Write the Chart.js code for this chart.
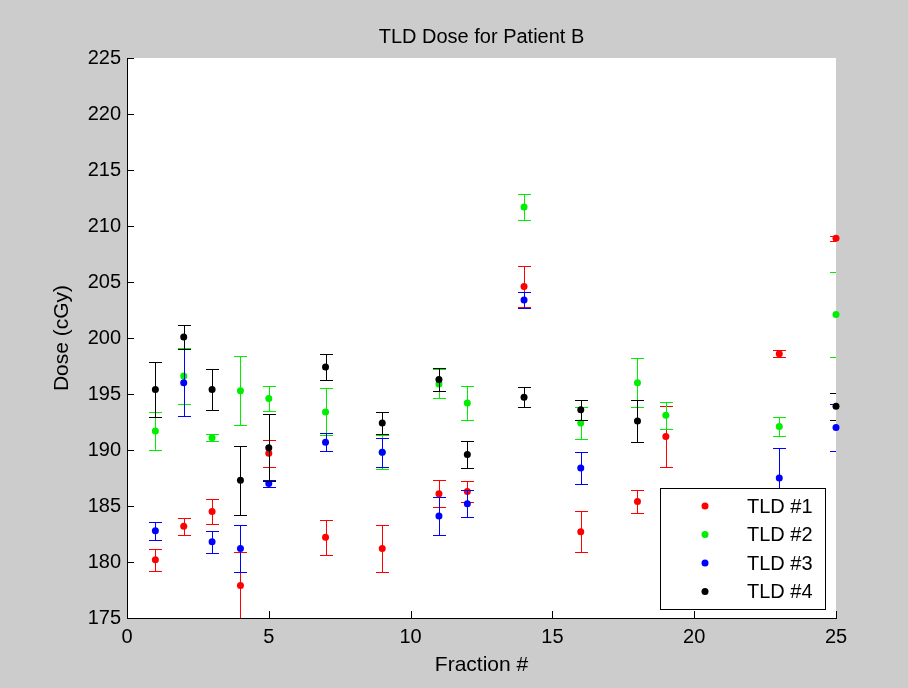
<!DOCTYPE html>
<html>
<head>
<meta charset="utf-8">
<script src="https://cdn.jsdelivr.net/npm/chart.js@4.4.1/dist/chart.umd.min.js"></script>
<style>
    html, body { margin: 0; padding: 0; background: #cccccc; }
    #wrap { width: 908px; height: 688px; }
</style>
</head>
<body>
<div id="wrap"><canvas id="chart" width="908" height="688"></canvas></div>
<script>
// fraction numbers (x)
const fractions = [1, 2, 3, 4, 5, 7, 9, 11, 12, 14, 16, 18, 19, 23, 25];

// dose values (cGy) and half error bar lengths, null = hidden behind legend
const tld1 = [180.2, 183.2, 184.5, 177.9, 189.7, 182.2, 181.2, 186.1, 186.3, 204.6, 182.7, 185.4, 191.2, 198.6, 208.9];
const tld1Err = [1.0, 0.75, 1.1, 3.0, 1.2, 1.55, 2.1, 1.2, 0.9, 1.8, 1.85, 1.0, 2.75, 0.3, 0.2];

const tld2 = [191.7, 196.6, 191.1, 195.3, 194.6, 193.4, 189.8, 195.9, 194.2, 211.7, 192.4, 196.0, 193.1, 192.1, 202.1];
const tld2Err = [1.7, 2.5, 0.3, 3.1, 1.1, 2.1, 1.5, 1.3, 1.55, 1.15, 1.4, 2.2, 1.2, 0.85, 3.8];

const tld3 = [182.8, 196.0, 181.8, 181.2, 187.0, 190.7, 189.8, 184.1, 185.2, 203.4, 188.4, null, null, 187.5, 192.0];
const tld3Err = [0.8, 3.0, 1.0, 2.1, 0.3, 0.8, 1.3, 1.7, 1.2, 0.7, 1.4, null, null, 2.65, 2.1];

const tld4 = [195.4, 200.1, 195.4, 187.3, 190.2, 197.4, 192.4, 196.3, 189.6, 194.7, 193.6, 192.6, null, null, 193.9];
const tld4Err = [2.45, 1.1, 1.8, 3.1, 3.0, 1.15, 1.0, 1.05, 1.2, 0.9, 0.9, 1.9, null, null, 1.2];

const seriesLabels = ["TLD #1", "TLD #2", "TLD #3", "TLD #4"];
const seriesColors = ["#ff0000", "#00ee00", "#0000ff", "#000000"];

const FONT = '"Liberation Sans", Arial, Helvetica, sans-serif';

function makePoints(values, errs) {
    return fractions.map((f, i) => ({x: f, y: values[i], err: errs[i]}));
}

function makeDataset(idx, values, errs) {
    return {
        label: seriesLabels[idx],
        data: makePoints(values, errs),
        backgroundColor: seriesColors[idx],
        borderColor: seriesColors[idx],
        pointRadius: 3.5,
        pointHoverRadius: 3.5,
        pointBorderWidth: 0,
        showLine: false,
        clip: false,
        order: 4 - idx
    };
}

// grey figure background + white axes box
const backgroundPlugin = {
    id: 'figureBackground',
    beforeDraw(chart) {
        const ctx = chart.ctx;
        const a = chart.chartArea;
        ctx.save();
        ctx.fillStyle = '#cccccc';
        ctx.fillRect(0, 0, chart.width, chart.height);
        ctx.fillStyle = '#ffffff';
        ctx.fillRect(a.left, a.top, a.right - a.left, a.bottom - a.top);
        ctx.restore();
    }
};

// vertical error bars with caps, drawn just before each dataset's markers
const errorBarPlugin = {
    id: 'errorBars',
    beforeDatasetDraw(chart, args) {
        const ds = chart.data.datasets[args.index];
        const ctx = chart.ctx;
        const a = chart.chartArea;
        const xs = chart.scales.x, ys = chart.scales.y;
        ctx.save();
        ctx.beginPath();
        ctx.rect(a.left, a.top, a.right - a.left, a.bottom - a.top);
        ctx.clip();
        ctx.strokeStyle = ds.borderColor;
        ctx.lineWidth = 1;
        ds.data.forEach(p => {
            if (p.y == null || p.err == null) return;
            const px = Math.round(xs.getPixelForValue(p.x)) + 0.5;
            const top = Math.round(ys.getPixelForValue(p.y + p.err)) + 0.5;
            const bot = Math.round(ys.getPixelForValue(p.y - p.err)) + 0.5;
            ctx.beginPath();
            ctx.moveTo(px, top); ctx.lineTo(px, bot);
            ctx.moveTo(px - 6.5, top); ctx.lineTo(px + 6.5, top);
            ctx.moveTo(px - 6.5, bot); ctx.lineTo(px + 6.5, bot);
            ctx.stroke();
        });
        ctx.restore();
    }
};

// inward tick marks and the boxed legend in the lower right
const axesDecorPlugin = {
    id: 'axesDecor',
    afterDraw(chart) {
        const ctx = chart.ctx;
        const a = chart.chartArea;
        const xs = chart.scales.x, ys = chart.scales.y;
        ctx.save();
        ctx.strokeStyle = '#000';
        ctx.lineWidth = 1;
        ctx.beginPath();
        xs.ticks.forEach(t => {
            const px = Math.round(xs.getPixelForValue(t.value)) + 0.5;
            ctx.moveTo(px, a.bottom); ctx.lineTo(px, a.bottom - 7);
        });
        ys.ticks.forEach(t => {
            const py = Math.round(ys.getPixelForValue(t.value)) + 0.5;
            ctx.moveTo(a.left, py); ctx.lineTo(a.left + 7, py);
        });
        ctx.stroke();

        // legend
        const lx = 660.5, ly = 488.5, lw = 165, lh = 121;
        ctx.fillStyle = '#ffffff';
        ctx.fillRect(lx, ly, lw, lh);
        ctx.strokeRect(lx, ly, lw, lh);
        ctx.font = '20px ' + FONT;
        ctx.textBaseline = 'middle';
        ctx.textAlign = 'left';
        chart.data.datasets.forEach((ds, i) => {
            const rowY = 506 + i * 28.5;
            ctx.fillStyle = ds.backgroundColor;
            ctx.beginPath();
            ctx.arc(705, rowY, 3.5, 0, Math.PI * 2);
            ctx.fill();
            ctx.fillStyle = '#000';
            ctx.fillText(ds.label, 747, rowY + 1);
        });
        ctx.restore();
    }
};

const chartData = {
    datasets: [
        makeDataset(0, tld1, tld1Err),
        makeDataset(1, tld2, tld2Err),
        makeDataset(2, tld3, tld3Err),
        makeDataset(3, tld4, tld4Err)
    ]
};

new Chart(document.getElementById('chart'), {
    type: 'scatter',
    data: chartData,
    plugins: [backgroundPlugin, errorBarPlugin, axesDecorPlugin],
    options: {
        responsive: false,
        animation: false,
        devicePixelRatio: 1,
        layout: {padding: {left: 0, right: 72, top: 0, bottom: 0}},
        plugins: {
            legend: {display: false},
            tooltip: {enabled: false},
            title: {
                display: true,
                fullSize: false,
                text: 'TLD Dose for Patient B',
                color: '#000',
                font: {family: FONT, size: 20, weight: 'normal'},
                padding: {top: 25, bottom: 9}
            }
        },
        scales: {
            x: {
                type: 'linear',
                min: 0,
                max: 25,
                afterFit(scale) { scale.height = 70; },
                grid: {display: false, drawTicks: false},
                border: {display: true, color: '#000', width: 1},
                ticks: {
                    stepSize: 5,
                    padding: 7,
                    color: '#000',
                    maxRotation: 0,
                    font: {family: FONT, size: 20}
                },
                title: {
                    display: true,
                    text: 'Fraction #',
                    color: '#000',
                    font: {family: FONT, size: 21},
                    padding: {top: 0, bottom: 10}
                }
            },
            y: {
                type: 'linear',
                min: 175,
                max: 225,
                afterFit(scale) { scale.width = 127; },
                grid: {display: false, drawTicks: false},
                border: {display: true, color: '#000', width: 1},
                ticks: {
                    stepSize: 5,
                    padding: 6,
                    color: '#000',
                    font: {family: FONT, size: 20}
                },
                title: {
                    display: true,
                    text: 'Dose (cGy)',
                    color: '#000',
                    font: {family: FONT, size: 21},
                    padding: {top: 50, bottom: 0}
                }
            }
        }
    }
});
</script>
</body>
</html>
